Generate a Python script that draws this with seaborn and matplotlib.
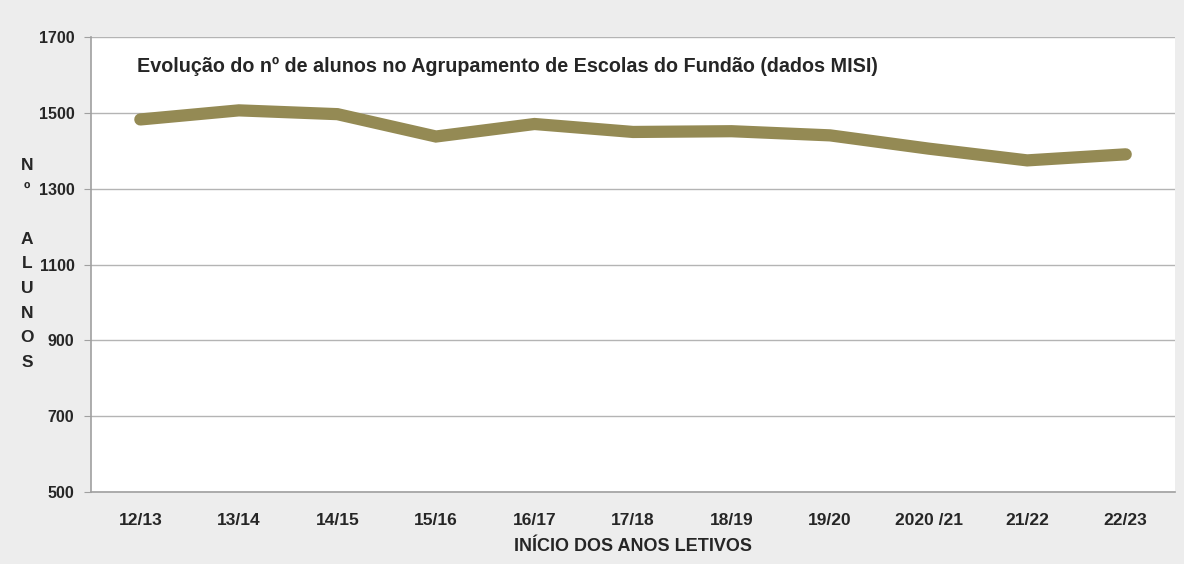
import numpy as np
import pandas as pd
import matplotlib
matplotlib.use('Agg')
import matplotlib.pyplot as plt
import seaborn as sns

anos = ['12/13', '13/14', '14/15', '15/16', '16/17', '17/18',
        '18/19', '19/20', '2020 /21', '21/22', '22/23']
alunos = [1483, 1507, 1497, 1438, 1471, 1450, 1452, 1441, 1406, 1375, 1391]
y_ticks = [500, 700, 900, 1100, 1300, 1500, 1700]

df = pd.DataFrame({'ano': anos, 'alunos': alunos})
df['pos'] = np.arange(len(df))

sns.set_style('white')
plt.rcParams['font.family'] = ['Liberation Sans', 'DejaVu Sans']

fig = plt.figure(figsize=(11.84, 5.64), dpi=100)
fig.patch.set_facecolor('#ededed')
ax = fig.add_axes([0.0769, 0.1277, 0.9155, 0.8063])
ax.set_facecolor('#ffffff')

sns.lineplot(data=df, x='pos', y='alunos', ax=ax, color='#948a54',
             linewidth=8.8, solid_capstyle='round', solid_joinstyle='miter')

ax.set_xlim(-0.5, len(anos) - 0.5)
ax.set_ylim(500, 1700)
ax.set_yticks(y_ticks)
ax.set_yticklabels([str(v) for v in y_ticks], fontsize=11.5, fontweight='bold')
ax.set_xticks(df['pos'])
ax.set_xticklabels(anos, fontsize=12.5, fontweight='bold')
ax.set_xticks(np.arange(-0.5, len(anos)), minor=True)
ax.tick_params(axis='x', which='major', length=0, pad=15)
ax.tick_params(axis='x', which='minor', length=4, color='#a0a0a0')
ax.tick_params(axis='y', length=5, color='#a0a0a0', pad=7, left=True)
ax.yaxis.grid(True, color='#b4b4b4', linewidth=1)
ax.set_axisbelow(True)

for s in ['top', 'right']:
    ax.spines[s].set_visible(False)
for s in ['left', 'bottom']:
    ax.spines[s].set_color('#a0a0a0')
    ax.spines[s].set_linewidth(1.2)

ax.set_xlabel('INÍCIO DOS ANOS LETIVOS', fontsize=13, fontweight='bold', labelpad=7)
ax.set_ylabel('')

ax.text(0.042, 0.935, 'Evolução do nº de alunos no Agrupamento de Escolas do Fundão (dados MISI)',
        transform=ax.transAxes, fontsize=14.2, fontweight='bold', ha='left', va='center')

fig.text(0.023, 0.532, 'N\nº\n\nA\nL\nU\nN\nO\nS', fontsize=12.5, fontweight='bold',
         ha='center', va='center', linespacing=1.8)

fig.savefig('out.png', dpi=100, facecolor=fig.get_facecolor())
